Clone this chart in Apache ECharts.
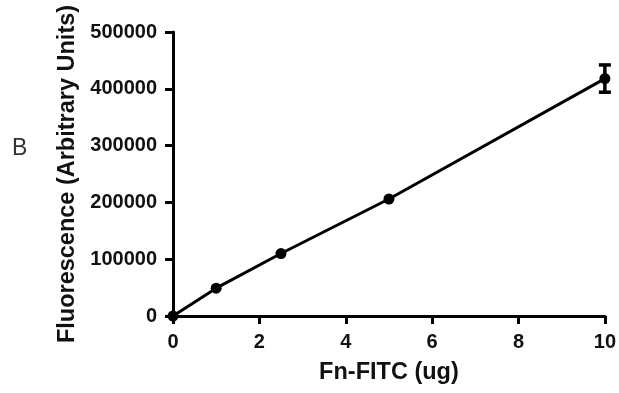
<!DOCTYPE html>
<html><head><meta charset="utf-8">
<script src="https://cdn.jsdelivr.net/npm/echarts@6/dist/echarts.min.js"></script>
<style>html,body{margin:0;padding:0;background:#fff}#c{width:619px;height:393px}</style>
</head><body><div id="c"></div>
<script>
const xValues = [0, 1, 2.5, 5, 10];
const yValues = [0, 49000, 110000, 206000, 418000];
const errLow = [0, 0, 0, 0, 394000];
const errHigh = [0, 0, 0, 0, 442000];
const xTicks = [0, 2, 4, 6, 8, 10];
const yTicks = [0, 100000, 200000, 300000, 400000, 500000];
const xTitle = 'Fn-FITC (ug)';
const yTitle = 'Fluorescence (Arbitrary Units)';
const panelLabel = 'B';

const chart = echarts.init(document.getElementById('c'), null, {renderer: 'canvas'});
const font = '"Liberation Sans", Arial, sans-serif';
const lineData = xValues.map((x, i) => [x, yValues[i]]);
const errData = xValues.map((x, i) => [x, errLow[i], errHigh[i]]).filter(d => d[2] > d[1]);

chart.setOption({
  animation: false,
  backgroundColor: '#fff',
  graphic: [{
    type: 'text', left: 12, top: 137,
    style: {text: panelLabel, fontFamily: font, fontSize: 23, fill: '#333', fontWeight: 'normal'}
  }],
  grid: {left: 173, right: 14, top: 32, bottom: 77, containLabel: false},
  xAxis: {
    type: 'value', min: 0, max: 10, interval: 2,
    name: xTitle, nameLocation: 'middle', nameGap: 45,
    nameTextStyle: {fontFamily: font, fontSize: 23.5, fontWeight: 'bold', color: '#111'},
    axisLine: {show: true, onZero: false, lineStyle: {color: '#000', width: 3}},
    axisTick: {show: true, length: 8, inside: false, lineStyle: {color: '#000', width: 3}},
    axisLabel: {fontFamily: font, fontSize: 20, fontWeight: 'bold', color: '#111', margin: 16,
      formatter: v => xTicks.includes(v) ? String(v) : ''},
    splitLine: {show: false}
  },
  yAxis: {
    type: 'value', min: 0, max: 500000, interval: 100000,
    name: yTitle, nameLocation: 'middle', nameGap: 89, nameRotate: 90,
    nameTextStyle: {fontFamily: font, fontSize: 23.5, fontWeight: 'bold', color: '#111'},
    axisLine: {show: true, onZero: false, lineStyle: {color: '#000', width: 3}},
    axisTick: {show: true, length: 8, inside: false, lineStyle: {color: '#000', width: 3}},
    axisLabel: {fontFamily: font, fontSize: 20, fontWeight: 'bold', color: '#111', margin: 16,
      formatter: v => yTicks.includes(v) ? String(v) : ''},
    splitLine: {show: false}
  },
  series: [
    {
      type: 'line', data: lineData, clip: false,
      symbol: 'circle', symbolSize: 11,
      lineStyle: {color: '#000', width: 3},
      itemStyle: {color: '#000'}
    },
    {
      type: 'custom', data: errData, clip: false, z: 3,
      renderItem: function (params, api) {
        const x = api.value(0);
        const lo = api.coord([x, api.value(1)]);
        const hi = api.coord([x, api.value(2)]);
        const w = 6;
        const st = {stroke: '#000', lineWidth: 3.5};
        return {type: 'group', children: [
          {type: 'line', shape: {x1: lo[0], y1: lo[1], x2: hi[0], y2: hi[1]}, style: st},
          {type: 'line', shape: {x1: lo[0] - w, y1: lo[1], x2: lo[0] + w, y2: lo[1]}, style: st},
          {type: 'line', shape: {x1: hi[0] - w, y1: hi[1], x2: hi[0] + w, y2: hi[1]}, style: st}
        ]};
      }
    }
  ]
});
</script></body></html>
